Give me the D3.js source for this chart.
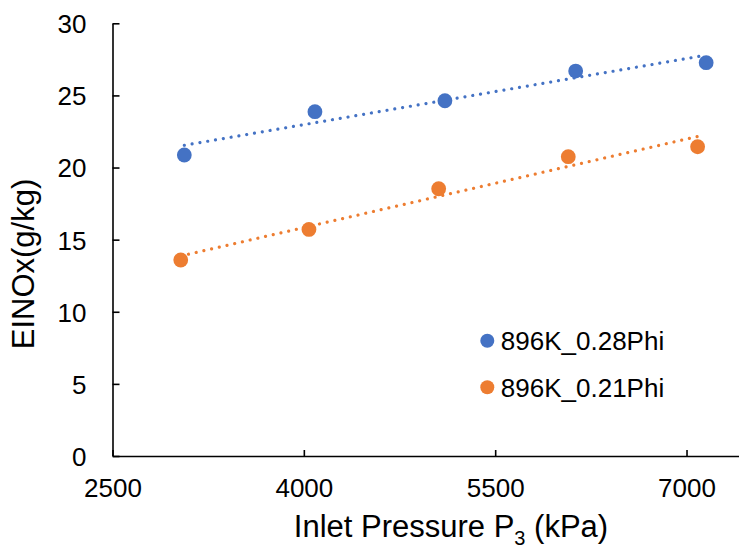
<!DOCTYPE html>
<html>
<head>
<meta charset="utf-8">
<script src="https://cdn.jsdelivr.net/npm/d3@7/dist/d3.min.js"></script>
<style>
  html, body { margin: 0; padding: 0; background: #fff; }
  svg { display: block; font-family: "Liberation Sans", Arial, Helvetica, sans-serif; }
</style>
</head>
<body>
<svg id="chart" width="739" height="554"></svg>
<script>
// Inlet pressure (kPa) and EINOx (g/kg) for the two equivalence ratios
const pressure028 = [3063, 4087, 5106, 6131, 7154];
const einox028    = [20.87, 23.87, 24.63, 26.69, 27.27];
const pressure021 = [3035, 4040, 5057, 6073, 7087];
const einox021    = [13.59, 15.71, 18.53, 20.75, 21.44];

const seriesNames  = ["896K_0.28Phi", "896K_0.21Phi"];
const seriesColors = ["#4472C4", "#ED7D31"];

const xTicks = [2500, 4000, 5500, 7000];
const yTicks = [0, 5, 10, 15, 20, 25, 30];

const series = [
  { name: seriesNames[0], color: seriesColors[0], xs: pressure028, ys: einox028 },
  { name: seriesNames[1], color: seriesColors[1], xs: pressure021, ys: einox021 }
];

const svg = d3.select("#chart");

const x = d3.scaleLinear().domain([2500, 7500]).range([112.5, 750.3]);
const y = d3.scaleLinear().domain([0, 30]).range([456, 23.3]);

// Axes: ticks point inward
const xAxis = d3.axisBottom(x).tickValues(xTicks).tickFormat(d3.format("d"))
  .tickSizeInner(-6).tickSizeOuter(0).tickPadding(22);
const yAxis = d3.axisLeft(y).tickValues(yTicks).tickFormat(d3.format("d"))
  .tickSizeInner(-7).tickSizeOuter(0).tickPadding(26);

const gx = svg.append("g").attr("transform", `translate(0,${y(0)})`).call(xAxis);
const gy = svg.append("g").attr("transform", `translate(${x(2500)},0)`).call(yAxis);

[gx, gy].forEach(g => {
  g.select(".domain").attr("stroke", "#000").attr("stroke-width", 1.6);
  g.selectAll(".tick line").attr("stroke", "#000").attr("stroke-width", 1.6);
  g.selectAll(".tick text").attr("fill", "#000")
    .style("font-size", "26px").style("font-family", "'Liberation Sans', Arial, sans-serif");
});
gy.selectAll(".tick text").attr("dy", "0.36em");
gx.selectAll(".tick text").attr("dy", "0.72em");

// Linear least-squares trendline per series
function fit(xs, ys) {
  const n = xs.length;
  const mx = d3.mean(xs), my = d3.mean(ys);
  let sxy = 0, sxx = 0;
  for (let i = 0; i < n; i++) { sxy += (xs[i] - mx) * (ys[i] - my); sxx += (xs[i] - mx) ** 2; }
  const b = sxy / sxx, a = my - b * mx;
  return v => a + b * v;
}

const line = d3.line().x(d => x(d[0])).y(d => y(d[1]));

series.forEach(s => {
  const f = fit(s.xs, s.ys);
  const x0 = d3.min(s.xs), x1 = d3.max(s.xs);
  svg.append("path")
    .datum([[x0, f(x0)], [x1, f(x1)]])
    .attr("d", line)
    .attr("fill", "none")
    .attr("stroke", s.color)
    .attr("stroke-width", 3.2)
    .attr("stroke-linecap", "round")
    .attr("stroke-dasharray", "0.01,7.9");
});

series.forEach(s => {
  svg.append("g").selectAll("circle")
    .data(s.xs.map((v, i) => [v, s.ys[i]]))
    .join("circle")
    .attr("cx", d => x(d[0]))
    .attr("cy", d => y(d[1]))
    .attr("r", 7.4)
    .attr("fill", s.color);
});

// Legend
const legend = svg.append("g").attr("transform", "translate(487.3,340.7)");
series.forEach((s, i) => {
  const g = legend.append("g").attr("transform", `translate(0,${i * 46.6})`);
  g.append("circle").attr("r", 7).attr("fill", s.color);
  g.append("text").attr("x", 13.5).attr("y", 9.3)
    .style("font-size", "26px").attr("fill", "#000").text(s.name);
});

// Axis titles
const xTitle = svg.append("text")
  .attr("x", 451).attr("y", 537)
  .attr("text-anchor", "middle")
  .style("font-size", "31px").attr("fill", "#000");
xTitle.append("tspan").text("Inlet Pressure P");
xTitle.append("tspan").attr("dy", 8).style("font-size", "20px").text("3");
xTitle.append("tspan").attr("dy", -8).text(" (kPa)");

svg.append("text")
  .attr("transform", "translate(34,264) rotate(-90)")
  .attr("text-anchor", "middle")
  .style("font-size", "31px").attr("fill", "#000")
  .text("EINOx(g/kg)");
</script>
</body>
</html>
